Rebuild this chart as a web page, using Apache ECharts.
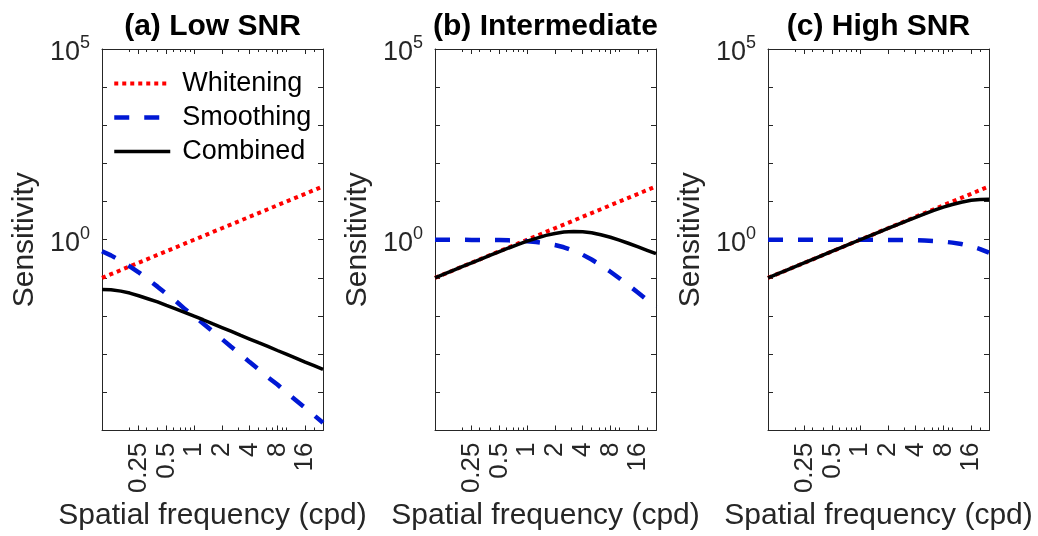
<!DOCTYPE html>
<html lang="en">
<head>
<meta charset="UTF-8">
<title>Sensitivity</title>
<script src="https://cdn.jsdelivr.net/npm/echarts@6/dist/echarts.min.js"></script>
<style>
  html, body { margin: 0; height: 100%; background: #fff; }
  #main { width: 1038px; height: 536px; }
</style>
</head>
<body>
<div id="main"></div>
<script>
// spatial frequency samples (cpd)
var freq = [0.1, 0.125, 0.16, 0.2, 0.25, 0.32, 0.4, 0.5, 0.63, 0.8, 1, 1.25, 1.6, 2, 2.5, 3.2, 4, 5, 6.3, 8, 10, 12.5, 16, 20, 25];

// whitening, same in all three panels
var whitening = [0.1, 0.125, 0.16, 0.2, 0.25, 0.32, 0.4, 0.5, 0.63, 0.8, 1, 1.25, 1.6, 2, 2.5, 3.2, 4, 5, 6.3, 8, 10, 12.5, 16, 20, 25];

// (a) low SNR
var smoothA = [0.5, 0.39, 0.28, 0.2, 0.14, 0.089, 0.059, 0.038, 0.025, 0.015, 0.0099, 0.0064, 0.0039, 0.0025, 0.0016, 0.00098, 0.00062, 0.0004, 0.00025, 0.00016, 0.0001, 0.000064, 0.000039, 0.000025, 0.000016];
var combA = [0.05, 0.049, 0.045, 0.04, 0.034, 0.028, 0.0235, 0.019, 0.0155, 0.0123, 0.0099, 0.008, 0.0062, 0.005, 0.004, 0.0031, 0.0025, 0.002, 0.0016, 0.00125, 0.001, 0.0008, 0.00062, 0.0005, 0.0004];

// (b) intermediate
var smoothB = [1, 1, 1, 1, 0.99, 0.99, 0.985, 0.98, 0.965, 0.944, 0.916, 0.875, 0.81, 0.73, 0.635, 0.515, 0.405, 0.303, 0.215, 0.145, 0.098, 0.065, 0.041, 0.0265, 0.017];
var combB = [0.1, 0.125, 0.16, 0.2, 0.248, 0.317, 0.394, 0.489, 0.608, 0.755, 0.916, 1.09, 1.3, 1.46, 1.59, 1.65, 1.62, 1.52, 1.35, 1.16, 0.98, 0.81, 0.65, 0.53, 0.43];

// (c) high SNR
var smoothC = [1, 1, 1, 1, 1, 1, 1, 1, 1, 0.999, 0.998, 0.997, 0.995, 0.992, 0.988, 0.981, 0.971, 0.955, 0.93, 0.892, 0.841, 0.772, 0.674, 0.569, 0.458];
var combC = [0.1, 0.125, 0.16, 0.2, 0.25, 0.32, 0.4, 0.5, 0.63, 0.8, 1, 1.25, 1.59, 1.98, 2.47, 3.14, 3.88, 4.78, 5.86, 7.14, 8.41, 9.65, 10.8, 11.4, 11.45];

var titles = ['(a) Low SNR', '(b) Intermediate', '(c) High SNR'];
var xMajor = [0.25, 0.5, 1, 2, 4, 8, 16];
var xMinor = [0.2, 0.3, 0.4, 0.6, 0.7, 0.8, 0.9, 3, 5, 6, 7, 9, 10, 20];
var yTicks = [1e-5, 1e-4, 1e-3, 1e-2, 1e-1, 1, 1e1, 1e2, 1e3, 1e4, 1e5];
var yLabels = [1, 1e5];

var panels = [
    {smooth: smoothA, comb: combA},
    {smooth: smoothB, comb: combB},
    {smooth: smoothC, comb: combC}
];

var FONT = '"Liberation Sans", Arial, Helvetica, sans-serif';
var AX = '#262626';
var RED = '#ff0000', BLUE = '#0018d4', BLACK = '#000000';
var lefts = [102, 435, 768];
var W = 221, H = 384, TOP = 49;

function pairs(ys) {
    return freq.map(function (f, i) { return [f, ys[i]]; });
}

var grid = [], title = [], xAxis = [], yAxis = [], series = [];

lefts.forEach(function (l, i) {
    grid.push({left: l, top: TOP, width: W, height: H});
    title.push({
        text: titles[i], left: l + W / 2, top: 12, textAlign: 'center', padding: 0,
        textStyle: {fontFamily: FONT, fontSize: 30, fontWeight: 'bold', color: '#000'}
    });
    var base = {type: 'log', logBase: 10, min: 0.1, max: 25, gridIndex: i, splitLine: {show: false}};
    // bottom, major ticks + labels
    xAxis.push(Object.assign({}, base, {
        position: 'bottom',
        axisLine: {show: true, lineStyle: {color: AX, width: 1}},
        axisTick: {show: true, inside: true, length: 5, customValues: xMajor, lineStyle: {color: AX}},
        axisLabel: {
            show: true, customValues: xMajor, rotate: 90, margin: 12,
            fontFamily: FONT, fontSize: 26, color: AX,
            formatter: function (v) { return String(+v.toPrecision(3)); }
        },
        name: 'Spatial frequency (cpd)', nameLocation: 'middle', nameGap: 70,
        nameTextStyle: {fontFamily: FONT, fontSize: 30, color: AX}
    }));
    // bottom minor ticks
    xAxis.push(Object.assign({}, base, {
        position: 'bottom',
        axisLine: {show: false},
        axisTick: {show: true, inside: true, length: 3, customValues: xMinor, lineStyle: {color: AX}},
        axisLabel: {show: false}
    }));
    // top edge of the box
    xAxis.push(Object.assign({}, base, {
        position: 'top',
        axisLine: {show: true, lineStyle: {color: AX, width: 1}},
        axisTick: {show: true, inside: true, length: 5, customValues: xMajor, lineStyle: {color: AX}},
        axisLabel: {show: false}
    }));
    xAxis.push(Object.assign({}, base, {
        position: 'top',
        axisLine: {show: false},
        axisTick: {show: true, inside: true, length: 3, customValues: xMinor, lineStyle: {color: AX}},
        axisLabel: {show: false}
    }));

    var ybase = {type: 'log', logBase: 10, min: 1e-5, max: 1e5, gridIndex: i, splitLine: {show: false}};
    yAxis.push(Object.assign({}, ybase, {
        position: 'left',
        axisLine: {show: true, lineStyle: {color: AX, width: 1}},
        axisTick: {show: true, inside: true, length: 5, customValues: yTicks, lineStyle: {color: AX}},
        axisLabel: {
            show: true, customValues: yLabels, margin: 12, padding: [7, 0, 0, 0],
            formatter: function (v) {
                var e = Math.round(Math.log10(v));
                return '{b|10}{sup|' + e + '}';
            },
            rich: {
                b: {fontFamily: FONT, fontSize: 27, color: AX, lineHeight: 36},
                sup: {fontFamily: FONT, fontSize: 18, color: AX, verticalAlign: 'top', lineHeight: 18}
            }
        },
        name: 'Sensitivity', nameLocation: 'middle', nameGap: 62,
        nameTextStyle: {fontFamily: FONT, fontSize: 30, color: AX}
    }));
    yAxis.push(Object.assign({}, ybase, {
        position: 'right',
        axisLine: {show: true, lineStyle: {color: AX, width: 1}},
        axisTick: {show: true, inside: true, length: 5, customValues: yTicks, lineStyle: {color: AX}},
        axisLabel: {show: false}
    }));

    var p = panels[i];
    series.push({
        name: 'Whitening', type: 'line', xAxisIndex: i * 4, yAxisIndex: i * 2,
        data: pairs(whitening), showSymbol: false, symbol: 'none',
        lineStyle: {color: RED, width: 4, type: [4, 4], cap: 'butt'},
        itemStyle: {color: RED}
    });
    series.push({
        name: 'Smoothing', type: 'line', xAxisIndex: i * 4, yAxisIndex: i * 2,
        data: pairs(p.smooth), showSymbol: false, symbol: 'none',
        lineStyle: {color: BLUE, width: 4.5, type: [15, 15], cap: 'butt'},
        itemStyle: {color: BLUE}
    });
    series.push({
        name: 'Combined', type: 'line', xAxisIndex: i * 4, yAxisIndex: i * 2,
        data: pairs(p.comb), showSymbol: false, symbol: 'none',
        lineStyle: {color: BLACK, width: 3.5},
        itemStyle: {color: BLACK}
    });
});

var chart = echarts.init(document.getElementById('main'));
chart.setOption({
    animation: false,
    backgroundColor: '#fff',
    title: title,
    legend: {
        data: ['Whitening', 'Smoothing', 'Combined'],
        orient: 'vertical', left: 112, top: 70, padding: 0,
        itemWidth: 56, itemHeight: 14, itemGap: 7,
        selectedMode: false,
        itemStyle: {opacity: 0},
        lineStyle: {width: 'inherit', type: 'inherit'},
        textStyle: {fontFamily: FONT, fontSize: 27, color: '#000', padding: [0, 0, 0, 7]}
    },
    grid: grid,
    xAxis: xAxis,
    yAxis: yAxis,
    series: series
});
</script>
</body>
</html>
